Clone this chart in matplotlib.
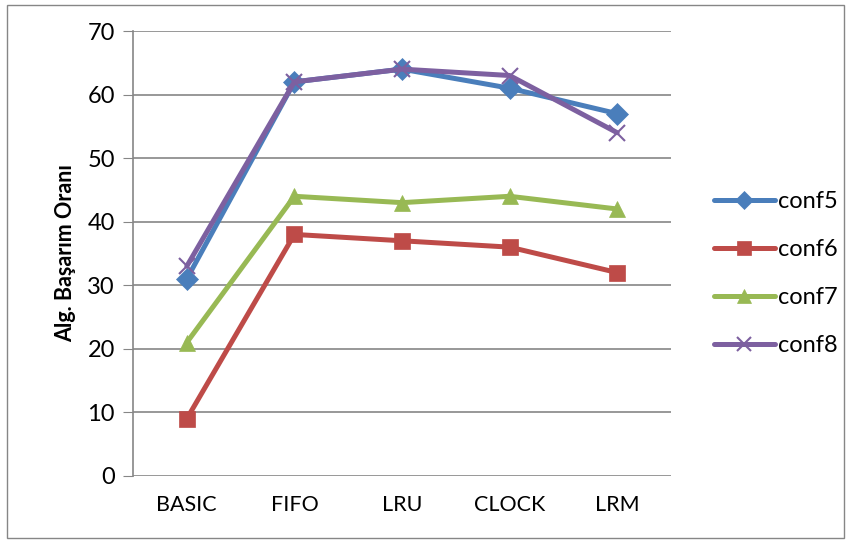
import matplotlib.pyplot as plt
from matplotlib.patches import Rectangle

categories = ['BASIC', 'FIFO', 'LRU', 'CLOCK', 'LRM']
conf5 = [31, 62, 64, 61, 57]
conf6 = [9, 38, 37, 36, 32]
conf7 = [21, 44, 43, 44, 42]
conf8 = [33, 62, 64, 63, 54]

plt.rcParams['font.family'] = ['Lato', 'DejaVu Sans']

fig = plt.figure(figsize=(8.49, 5.42), dpi=100)
ax = fig.add_axes([133 / 849, 1 - 476 / 542, (671 - 133) / 849, (476 - 31) / 542])

x = range(len(categories))
series = [
    ('conf5', conf5, '#4A7EBB', 'D', 11),
    ('conf6', conf6, '#BE4B48', 's', 12),
    ('conf7', conf7, '#98B954', '^', 12),
    ('conf8', conf8, '#7D60A0', 'x', 12),
]
for name, vals, color, mk, ms in series:
    ax.plot(x, vals, color=color, lw=3.6, marker=mk, markersize=ms,
            markeredgewidth=1.5 if mk == 'x' else 0.5, label=name,
            solid_capstyle='round')

ax.set_xlim(-0.5, len(categories) - 0.5)
ax.set_ylim(0, 70)
ax.set_yticks(range(0, 71, 10))
ax.set_xticks(list(x))
ax.set_xticklabels(categories, fontsize=15.5)
ax.tick_params(axis='y', labelsize=17, length=7, color='#868686', pad=6)
ax.tick_params(axis='x', length=0, pad=14)
ax.yaxis.grid(True, color='#868686', lw=1.2)
ax.set_axisbelow(True)
for s in ['top', 'right', 'bottom']:
    ax.spines[s].set_visible(False)
ax.spines['left'].set_color('#868686')
ax.spines['left'].set_linewidth(1.2)
ax.set_ylabel('Alg. Başarım Oranı', fontsize=15.5, fontweight='bold', labelpad=8)

leg = ax.legend(loc='center left', bbox_to_anchor=(1.04, 0.455), frameon=False,
                fontsize=17, handlelength=2.6, labelspacing=1.15,
                handletextpad=0.1, markerscale=0.8)

fig.patches.append(Rectangle((7 / 849, 4 / 542), 837 / 849, 533 / 542,
                             transform=fig.transFigure, fill=False,
                             edgecolor='#868686', lw=1))

fig.savefig('out.png', dpi=100)
